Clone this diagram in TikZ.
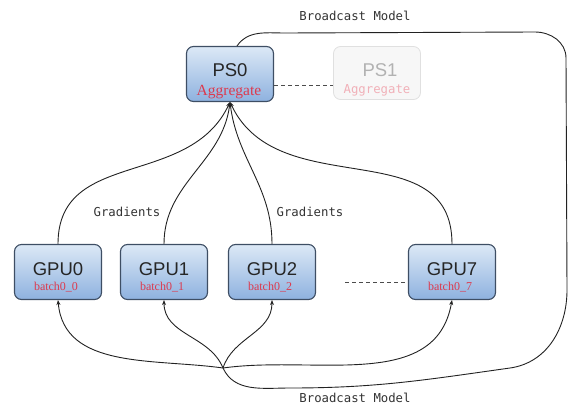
\documentclass[tikz,border=0pt]{standalone}
\usepackage{fontspec}
\setmainfont{Liberation Serif}
\newfontfamily\sansf{Liberation Sans}
\newfontfamily\monof{DejaVu Sans Mono}
\usetikzlibrary{arrows.meta}
\definecolor{boxedge}{HTML}{3E4E64}
\definecolor{boxtop}{HTML}{DCE8F6}
\definecolor{boxbot}{HTML}{8EB2DF}
\definecolor{redtxt}{HTML}{DC3A4E}
\definecolor{lineclr}{HTML}{222222}
\begin{document}
\begin{tikzpicture}[x=1pt,y=-1pt,
  box/.style={draw=boxedge,line width=1.1pt,rounded corners=7pt,top color=boxtop,bottom color=boxbot,
    minimum width=87pt,minimum height=55pt,inner sep=0pt},
  ghost/.style={draw=black!12,line width=0.8pt,rounded corners=7pt,fill=black!3,
    minimum width=87pt,minimum height=53pt,inner sep=0pt},
  big/.style={font=\sansf\fontsize{18.5}{19}\selectfont,text=black!85,inner sep=0pt},
  sub/.style={font=\fontsize{15.5}{16}\selectfont,text=redtxt,inner sep=0pt,anchor=base},
  batch/.style={font=\fontsize{12}{13}\selectfont,text=redtxt,inner sep=0pt,anchor=base},
  lbl/.style={font=\monof\fontsize{12.3}{13}\selectfont,text=black!80,inner sep=0pt},
  conn/.style={draw=lineclr,line width=0.9pt},
  arr/.style={conn,-{Stealth[length=5pt,width=4pt]}},
  dsh/.style={draw=black!70,line width=0.9pt,dash pattern=on 4pt off 3pt}]
\useasboundingbox (0,0) rectangle (573,407);

% parameter servers
\node[box] (ps0) at (230,74) {};
\node[big] (ps0t) at (230,70.5) {PS0};
\node[sub] (ps0s) at (229,95) {Aggregate};
\node[ghost] (ps1) at (377,73) {};
\node[big,text=black!30] (ps1t) at (380,70.5) {PS1};
\node[lbl,text=redtxt!40,anchor=base] (ps1s) at (377,93) {Aggregate};
\draw[dsh] ([yshift=-11pt]ps0.east) -- ([yshift=-12pt]ps1.west);

% GPUs
\foreach \n/\x/\nm in {gpu0/58/0,gpu1/164/1,gpu2/272/2,gpu7/452/7}{
  \node[box] (\n) at (\x,272) {};
  \node[big] (\n t) at (\x,269.5) {GPU\nm};
  \node[batch] (\n b) at (\x-2,290) {batch0\_\nm};
}
\coordinate (dl) at (345,282);
\draw[dsh] (dl) -- ([yshift=-10pt]gpu7.west);

% gradients
\draw[arr] (gpu0.north) to[out=90,in=-115,looseness=1.1] (ps0.south);
\draw[arr] (gpu1.north) to[out=90,in=-97] (ps0.south);
\draw[arr] (gpu2.north) to[out=90,in=-83] (ps0.south);
\draw[arr] (gpu7.north) to[out=90,in=-65,looseness=1.1] (ps0.south);
\node[lbl] (g1) at (127,212) {Gradients};
\node[lbl] (g2) at (310,212) {Gradients};

% broadcast
\coordinate (J) at (223,368);
\draw[conn] ([xshift=7pt]ps0.north) to[out=55,in=180] (285,33) -- (535,32)
  to[out=0,in=90] (566,58) -- (567,290) to[out=-90,in=8] (510,368)
  to[out=188,in=0] (290,388) to[out=180,in=-65] (J);
\draw[arr] (J) to[out=172,in=-85] (gpu0.south);
\draw[arr] (J) to[out=112,in=-90] (gpu1.south);
\draw[arr] (J) to[out=72,in=-90] (gpu2.south);
\draw[arr] (J) to[out=8,in=-100] (gpu7.south);
\node[lbl] (b1) at (355,16) {Broadcast Model};
\node[lbl] (b2) at (355,398) {Broadcast Model};
\end{tikzpicture}
\end{document}
